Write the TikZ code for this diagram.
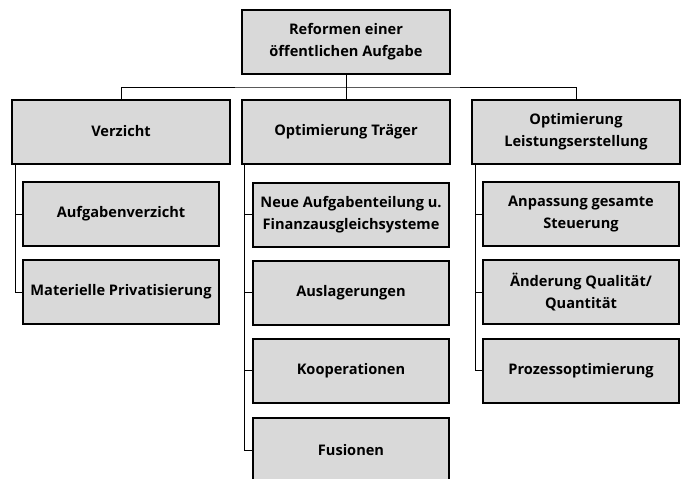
\documentclass[tikz,border=0pt]{standalone}
\usepackage{fontspec}
\setmainfont{Open Sans}
\begin{document}
\begin{tikzpicture}[x=1pt,y=-1pt,
  box/.style={draw=black,line width=2pt,fill=boxgray,align=center,inner sep=0pt,
    font=\fontsize{14.6}{22}\selectfont\bfseries},
  big/.style={box,minimum width=208pt,minimum height=64pt},
  small/.style={box,minimum width=196pt,minimum height=64pt},
  conn/.style={draw=black,line width=1pt}]
\definecolor{boxgray}{HTML}{D9D9D9}
\useasboundingbox (0,0) rectangle (686,479);
\node[big] (top) at (346,41.5) {Reformen einer\\öffentlichen Aufgabe};
\node[big,minimum width=218pt] (verz) at (121,131.5) {Verzicht};
\node[big] (trag) at (346,131.5) {Optimierung Träger};
\node[big] (leis) at (576,131.5) {Optimierung\\Leistungserstellung};
\node[small] (v1) at (121,214) {Aufgabenverzicht};
\node[small] (v2) at (121,292) {Materielle Privatisierung};
\node[small] (t1) at (351,214.5) {Neue Aufgabenteilung u.\\Finanzausgleichsysteme};
\node[small] (t2) at (351,292.5) {Auslagerungen};
\node[small] (t3) at (351,370.5) {Kooperationen};
\node[small] (t4) at (351,450) {Fusionen};
\node[small] (l1) at (581,214) {Anpassung gesamte\\Steuerung};
\node[small] (l2) at (581,292) {Änderung Qualität/\\Quantität};
\node[small] (l3) at (581,370.5) {Prozessoptimierung};
\coordinate (bus) at (346,87);
\draw[conn] (top.south) -- (trag.north);
\draw[conn] (verz.north) |- (bus) -| (leis.north);
\draw[conn] ([xshift=4pt,yshift=1pt]verz.south west) |- (v1.west);
\draw[conn] ([xshift=4pt,yshift=1pt]verz.south west) |- (v2.west);
\draw[conn] ([xshift=3pt,yshift=1pt]trag.south west) |- (t1.west);
\draw[conn] ([xshift=3pt,yshift=1pt]trag.south west) |- (t2.west);
\draw[conn] ([xshift=3pt,yshift=1pt]trag.south west) |- (t3.west);
\draw[conn] ([xshift=3pt,yshift=1pt]trag.south west) |- (t4.west);
\draw[conn] ([xshift=4pt,yshift=1pt]leis.south west) |- (l1.west);
\draw[conn] ([xshift=4pt,yshift=1pt]leis.south west) |- (l2.west);
\draw[conn] ([xshift=4pt,yshift=1pt]leis.south west) |- (l3.west);
\end{tikzpicture}
\end{document}
